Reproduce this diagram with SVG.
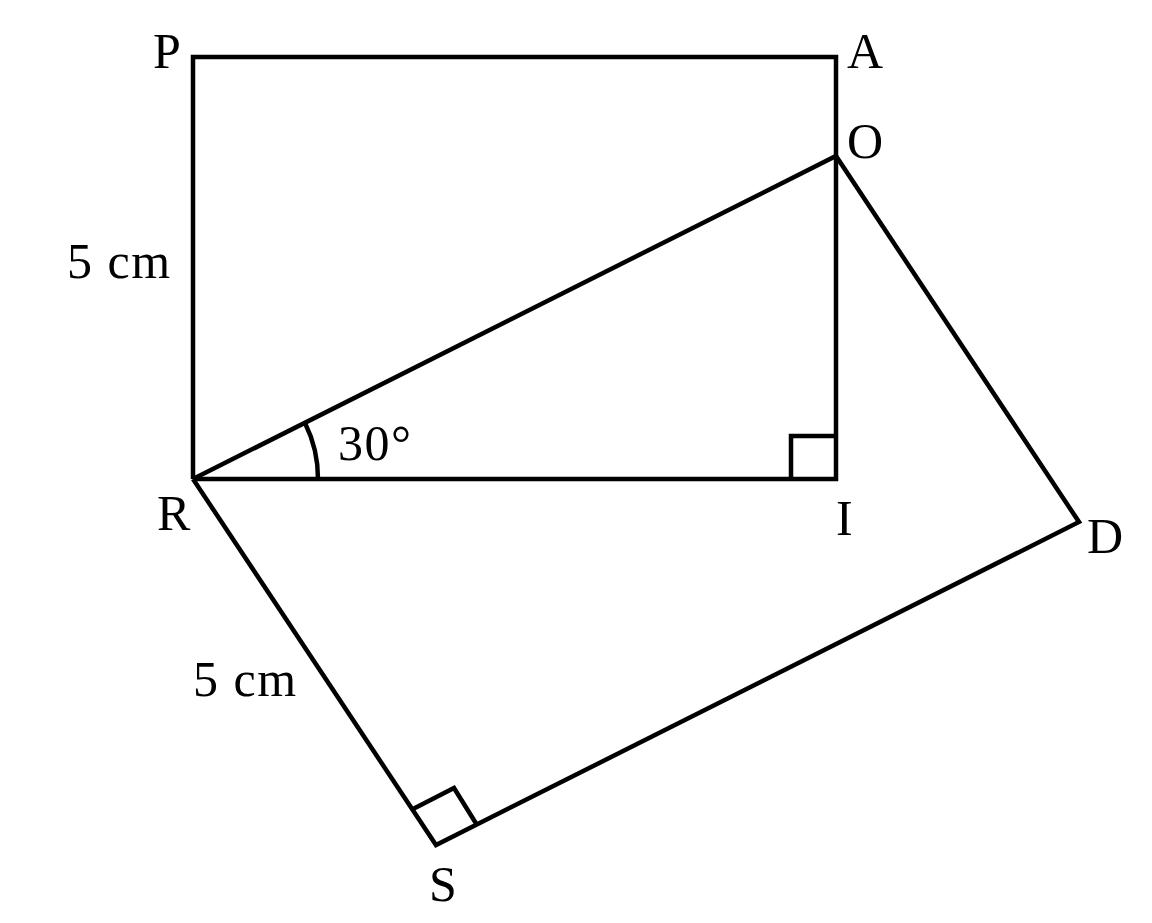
<svg xmlns="http://www.w3.org/2000/svg" width="1152" height="923" viewBox="0 0 1152 923">
<style>
.l{fill:none;stroke:#000;stroke-width:4.5;stroke-linejoin:miter}
.t{font-family:"Liberation Serif","DejaVu Serif",serif;font-size:50px;fill:#000}
.w{letter-spacing:1.5px}
</style>
<rect width="1152" height="923" fill="#fff"/>
<g id="connectors">
<polyline class="l" points="193,479 193,57 836,57 836,479 193,479"/>
<polyline class="l" points="193,479 836,156 1079,522 436,845 193,479"/>
<polyline class="l" points="791,479 791,436 836,436"/>
<polyline class="l" points="413,809 454,788 477,825"/>
<path class="l" d="M305,423 A125,125 0 0 1 318,479"/>
</g>
<g id="P"><text class="t" x="153" y="68">P</text></g>
<g id="A"><text class="t" x="847" y="68">A</text></g>
<g id="O"><text class="t" x="847" y="158">O</text></g>
<g id="R"><text class="t" x="157" y="530">R</text></g>
<g id="I"><text class="t" x="836" y="535">I</text></g>
<g id="D"><text class="t" x="1087" y="553">D</text></g>
<g id="S"><text class="t" x="429" y="901">S</text></g>
<g id="angle"><text class="t w" x="338" y="460">30°</text></g>
<g id="len1"><text class="t w" x="67" y="278">5 cm</text></g>
<g id="len2"><text class="t w" x="193" y="696">5 cm</text></g>
</svg>
